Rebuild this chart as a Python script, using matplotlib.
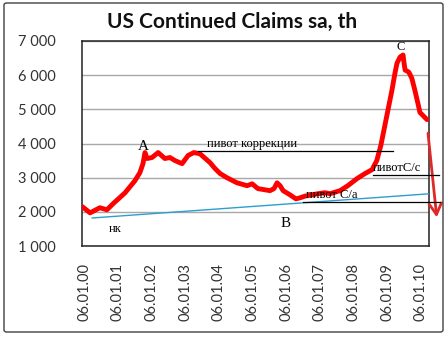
import matplotlib
matplotlib.use("Agg")
import matplotlib.pyplot as plt
from matplotlib.patches import FancyBboxPatch

# Continued claims, thousands (x = years since Jan 2000)
years = [-0.05, 0.18, 0.47, 0.68, 0.86, 1.22, 1.51, 1.66, 1.75, 1.81, 1.87, 2.02,
         2.20, 2.40, 2.55, 2.70, 2.91, 3.09, 3.26, 3.44, 3.74, 3.89, 4.04, 4.24,
         4.54, 4.84, 4.99, 5.16, 5.52, 5.64, 5.73, 5.82, 5.91, 6.11, 6.29, 6.41,
         6.56, 6.94, 7.15, 7.30, 7.60, 7.83, 8.10, 8.34, 8.55, 8.69, 8.81, 8.90,
         9.02, 9.14, 9.23, 9.29, 9.38, 9.47, 9.50, 9.53, 9.64, 9.73, 9.82, 9.91,
         9.97, 10.12, 10.18]
claims = [2150, 1970, 2120, 2060, 2235, 2560, 2910, 3150, 3410, 3735, 3560, 3590,
          3735, 3560, 3590, 3500, 3410, 3650, 3735, 3700, 3440, 3265, 3120, 3000,
          2850, 2765, 2820, 2680, 2620, 2680, 2850, 2765, 2620, 2500, 2380, 2410,
          2460, 2530, 2560, 2530, 2620, 2765, 2970, 3120, 3235, 3500, 3940, 4380,
          4970, 5560, 6060, 6350, 6530, 6590, 6350, 6150, 6090, 5910, 5560, 5180,
          4910, 4760, 4700]

tick_pos = list(range(11))
tick_labels = ["06.01.%02d" % i for i in range(11)]
y_ticks = [1000, 2000, 3000, 4000, 5000, 6000, 7000]
y_labels = ["1 000", "2 000", "3 000", "4 000", "5 000", "6 000", "7 000"]

# Pivot levels and trend line
pivot_corr = (3.38, 9.17, 3780)
pivot_cc = (8.58, 10.53, 3090)
pivot_ca = (6.50, 10.56, 2300)
trend_x = [0.24, 10.27]
trend_y = [1820, 2530]

fig = plt.figure(figsize=(4.47, 3.37), dpi=100)
fig.patch.set_facecolor("white")
fig.patches.append(FancyBboxPatch((4 / 447, 5 / 337), 439 / 447, 329 / 337,
                                  boxstyle="round,pad=0,rounding_size=0.006",
                                  transform=fig.transFigure, fill=False,
                                  edgecolor="#404040", linewidth=1.0))

ax = fig.add_axes([82 / 447, 1 - 246 / 337, 347 / 447, 205 / 337])
ax.set_xlim(-0.06, 10.24)
ax.set_ylim(1000, 7000)

ax.set_yticks(y_ticks)
ax.set_yticklabels(y_labels, family="Lato", fontsize=10.5, color="#333333")
ax.set_xticks(tick_pos)
ax.set_xticklabels(tick_labels, rotation=90, family="Lato", fontsize=10.5, color="#333333")
ax.tick_params(axis="both", length=0)
ax.tick_params(axis="y", pad=19)
ax.tick_params(axis="x", pad=12)

ax.grid(axis="y", color="#a8a8a8", linewidth=1.0)
ax.set_axisbelow(True)
for s in ax.spines.values():
    s.set_color("#222222")
    s.set_linewidth(1.1)

ax.plot(years, claims, color="#ff0000", linewidth=3.5, solid_joinstyle="round",
        solid_capstyle="round", zorder=3)

ax.plot(trend_x, trend_y, color="#2a9fd0", linewidth=1.0, zorder=4)
for x0, x1, lvl in (pivot_corr, pivot_cc, pivot_ca):
    ax.plot([x0, x1], [lvl, lvl], color="black", linewidth=0.9, clip_on=False, zorder=4)

serif = "Liberation Serif"
ax.text(1.76, 3920, "A", family=serif, fontsize=11, ha="center", va="center")
ax.text(5.99, 1650, "B", family=serif, fontsize=11, ha="center", va="center")
ax.text(9.40, 6830, "C", family=serif, fontsize=9, ha="center", va="center")
ax.text(0.93, 1500, "нк", family=serif, fontsize=9, ha="center", va="center")
ax.text(3.65, 3810, "пивот коррекции", family=serif, fontsize=9, ha="left", va="bottom")
ax.text(8.58, 3110, "пивотC/с", family=serif, fontsize=9, ha="left", va="bottom",
        clip_on=False)
ax.text(6.60, 2330, "пивот C/a", family=serif, fontsize=9, ha="left", va="bottom")

ax.annotate("", xy=(10.47, 1840), xytext=(10.21, 4300), annotation_clip=False,
            arrowprops=dict(arrowstyle="->,head_length=0.8,head_width=0.45",
                            color="#e02828", linewidth=2.0, shrinkA=0, shrinkB=0))

fig.text(232 / 447, 1 - 22 / 337, "US Continued Claims sa, th", family="Lato",
         fontweight="bold", fontsize=15, ha="center", va="center", color="#111111")

fig.savefig("out.png", dpi=100)
